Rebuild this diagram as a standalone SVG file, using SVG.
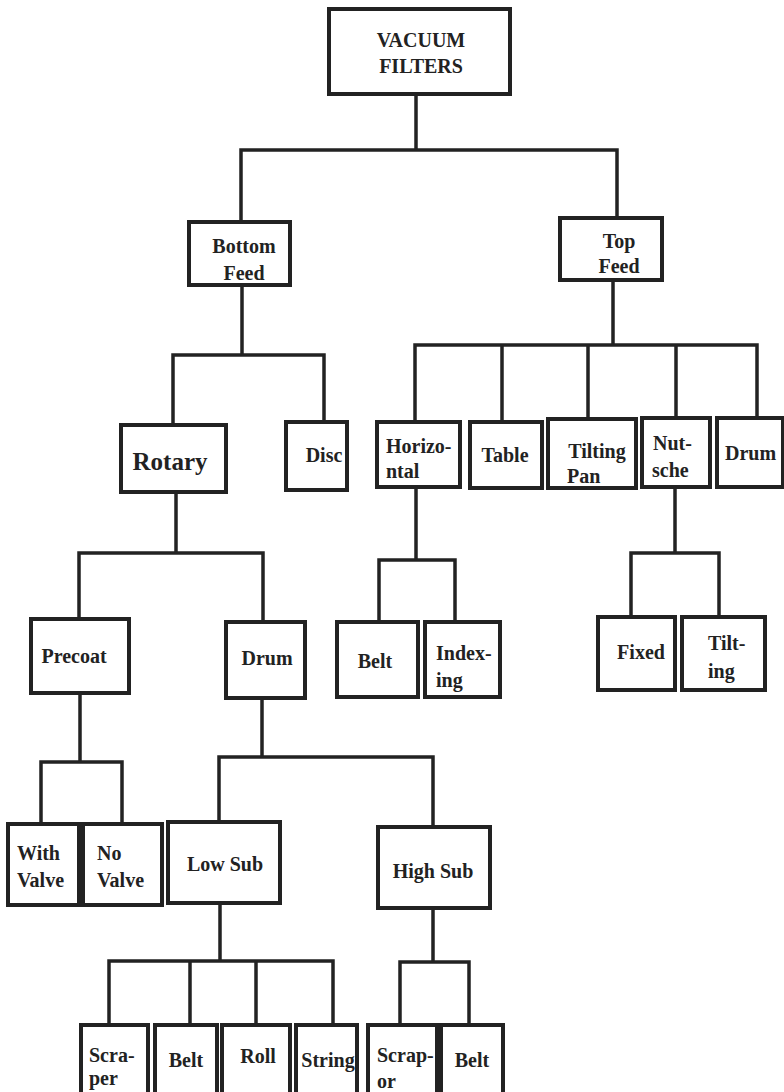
<svg xmlns="http://www.w3.org/2000/svg" width="784" height="1092" viewBox="0 0 784 1092">
<style>
.b{fill:#fff;stroke:#222;stroke-width:4}
.l{fill:none;stroke:#222;stroke-width:3.5;stroke-linejoin:miter}
text{font-family:'Liberation Serif','DejaVu Serif','Noto Serif',serif;font-weight:bold;font-size:20px;fill:#222}
.c{text-anchor:middle}
</style>
<rect width="784" height="1092" fill="#fff"/>
<g id="connectors">
<path class="l" d="M416 94V150M241 222V150H617V218"/>
<path class="l" d="M242 285V355M173 425V355H324V422"/>
<path class="l" d="M613 280V345M415 422V345H757V418M502 345V422M588 345V419M676 345V418"/>
<path class="l" d="M176 492V553M79 619V553H263V622"/>
<path class="l" d="M416 487V560M379 622V560H455V622"/>
<path class="l" d="M675 487V553M631 617V553H719V617"/>
<path class="l" d="M80 693V762M41 824V762H122V824"/>
<path class="l" d="M262 698V757M219 822V757H433V827"/>
<path class="l" d="M220 903V961M109 1025V961H333V1025M190 961V1025M256 961V1025"/>
<path class="l" d="M433 908V962M400 1025V962H469V1025"/>
</g>
<g id="labels" font-family="Liberation Serif, serif">
<g id="vacuum"><rect class="b" x="329" y="9" width="181" height="85"/><text class="c" x="421" y="47">VACUUM</text><text class="c" x="421" y="73">FILTERS</text></g>
<g id="bottomfeed"><rect class="b" x="189" y="222" width="101" height="63"/><text class="c" x="244" y="253">Bottom</text><text class="c" x="244" y="280">Feed</text></g>
<g id="topfeed"><rect class="b" x="560" y="218" width="102" height="62"/><text class="c" x="619" y="248">Top</text><text class="c" x="619" y="273">Feed</text></g>
<g id="rotary"><rect class="b" x="121" y="425" width="105" height="67"/><text class="c" x="170" y="470" style="font-size:25px">Rotary</text></g>
<g id="disc"><rect class="b" x="286" y="422" width="61" height="68"/><text class="c" x="324" y="462">Disc</text></g>
<g id="horizontal"><rect class="b" x="377" y="422" width="83" height="65"/><text x="386" y="453">Horizo-</text><text x="386" y="478">ntal</text></g>
<g id="table"><rect class="b" x="470" y="422" width="72" height="66"/><text class="c" x="505" y="462">Table</text></g>
<g id="tiltingpan"><rect class="b" x="548" y="419" width="88" height="69"/><text class="c" x="597" y="458">Tilting</text><text x="567" y="483">Pan</text></g>
<g id="nutsche"><rect class="b" x="642" y="418" width="68" height="69"/><text x="653" y="450">Nut-</text><text x="652" y="477">sche</text></g>
<g id="drumtop"><rect class="b" x="717" y="418" width="66" height="69"/><text x="725" y="460">Drum</text></g>
<g id="precoat"><rect class="b" x="31" y="619" width="98" height="74"/><text class="c" x="74" y="663">Precoat</text></g>
<g id="drum"><rect class="b" x="226" y="622" width="79" height="76"/><text class="c" x="267" y="665">Drum</text></g>
<g id="belt1"><rect class="b" x="337" y="622" width="81" height="75"/><text class="c" x="375" y="668">Belt</text></g>
<g id="indexing"><rect class="b" x="425" y="622" width="75" height="75"/><text x="436" y="660">Index-</text><text x="436" y="687">ing</text></g>
<g id="fixed"><rect class="b" x="598" y="617" width="77" height="73"/><text class="c" x="641" y="659">Fixed</text></g>
<g id="tilting"><rect class="b" x="682" y="617" width="83" height="73"/><text x="708" y="650">Tilt-</text><text x="708" y="678">ing</text></g>
<g id="withvalve"><rect class="b" x="8" y="824" width="71" height="81"/><text x="17" y="860">With</text><text x="17" y="887">Valve</text></g>
<g id="novalve"><rect class="b" x="83" y="824" width="79" height="81"/><text x="97" y="860">No</text><text x="97" y="887">Valve</text></g>
<g id="lowsub"><rect class="b" x="168" y="822" width="112" height="81"/><text class="c" x="225" y="871">Low Sub</text></g>
<g id="highsub"><rect class="b" x="378" y="827" width="112" height="81"/><text class="c" x="433" y="878">High Sub</text></g>
<g id="scraper"><rect class="b" x="81" y="1025" width="67" height="72"/><text x="89" y="1062">Scra-</text><text x="89" y="1085">per</text></g>
<g id="belt2"><rect class="b" x="155" y="1025" width="62" height="72"/><text class="c" x="186" y="1067">Belt</text></g>
<g id="roll"><rect class="b" x="222" y="1025" width="68" height="72"/><text class="c" x="258" y="1063">Roll</text></g>
<g id="string"><rect class="b" x="296" y="1025" width="61" height="72"/><text class="c" x="328" y="1067">String</text></g>
<g id="scrapor"><rect class="b" x="368" y="1025" width="69" height="72"/><text x="377" y="1062">Scrap-</text><text x="377" y="1088">or</text></g>
<g id="belt3"><rect class="b" x="441" y="1025" width="62" height="72"/><text class="c" x="472" y="1067">Belt</text></g>
</g>
</svg>
